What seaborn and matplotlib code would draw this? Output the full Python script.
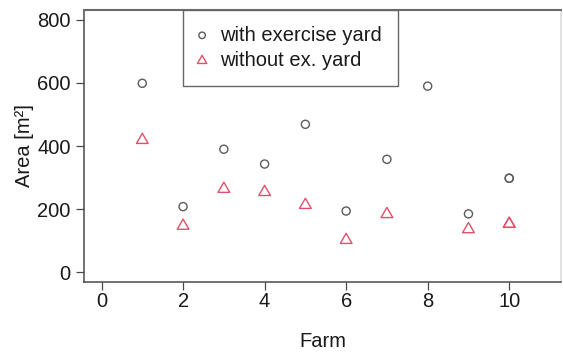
import matplotlib
matplotlib.use("Agg")
import matplotlib.pyplot as plt
import numpy as np
import pandas as pd
import seaborn as sns
from matplotlib.path import Path

# Floor area per farm, with and without an exercise yard
farms_with = [1, 2, 3, 4, 5, 6, 7, 8, 9, 10, 10]
area_with = [599, 208, 390, 343, 469, 194, 358, 590, 185, 298, 298]
farms_without = [1, 2, 3, 4, 5, 6, 7, 9, 10, 10]
area_without = [419, 147, 264, 254, 213, 102, 184, 136, 153, 153]

x_ticks = [0, 2, 4, 6, 8, 10]
y_ticks = [0, 200, 400, 600, 800]
label_with = "with exercise yard"
label_without = "without ex. yard"

sns.set_theme(style="white")
plt.rcParams["font.family"] = ["Liberation Sans", "DejaVu Sans"]

df_with = pd.DataFrame({"Farm": farms_with, "Area": area_with})
df_without = pd.DataFrame({"Farm": farms_without, "Area": area_without})

circle_col = "#5c5c5c"
tri_col = "#E0506A"
axis_col = "#4a4a4a"

# equilateral open triangle, like R's pch = 2
tri = Path([(0, 1.0), (-0.866, -0.5), (0.866, -0.5), (0, 1.0)],
           [Path.MOVETO, Path.LINETO, Path.LINETO, Path.CLOSEPOLY])

fig = plt.figure(figsize=(5.63, 3.58), dpi=100)
ax = fig.add_axes([84 / 563, 76 / 358, 477 / 563, 272.5 / 358])

sns.scatterplot(data=df_with, x="Farm", y="Area", ax=ax, marker="o", s=34,
                facecolor="none", edgecolor=circle_col, linewidth=1.0,
                label=label_with, zorder=3)
sns.scatterplot(data=df_without, x="Farm", y="Area", ax=ax, marker=tri, s=95,
                facecolor="none", edgecolor=tri_col, linewidth=1.0,
                label=label_without, zorder=3)

ax.set_xlim(-0.43, 11.27)
ax.set_ylim(-31, 833)
ax.set_xticks(x_ticks)
ax.set_yticks(y_ticks)

for side in ["left", "bottom", "top", "right"]:
    ax.spines[side].set_visible(True)
    ax.spines[side].set_color(axis_col)
    ax.spines[side].set_linewidth(1.1)
ax.spines["top"].set_linewidth(1.5)
ax.spines["top"].set_color("#6a6a6a")
ax.spines["right"].set_color("#d8d8d8")

ax.tick_params(axis="both", which="major", direction="out", length=5.5,
               width=0.9, color=axis_col, labelsize=14.5, labelcolor="#1a1a1a",
               left=True, bottom=True)
ax.tick_params(axis="x", pad=1.5)
ax.tick_params(axis="y", pad=4)

ax.set_xlabel("Farm", fontsize=14.5, color="#1a1a1a")
ax.set_ylabel("Area [m²]", fontsize=14.5, color="#1a1a1a")
ax.xaxis.set_label_coords(0.5, -0.185)
ax.yaxis.set_label_coords(-0.105, 0.5)

leg = ax.legend(loc="upper left", bbox_to_anchor=(0.2075, 1.0),
                borderaxespad=0, frameon=True, fancybox=False, framealpha=1,
                edgecolor="#666666", fontsize=14.5, borderpad=0.8,
                labelspacing=0.32, handlelength=0.3, handletextpad=0.74,
                markerscale=0.8)
leg.get_frame().set_linewidth(1.0)
for t in leg.get_texts():
    t.set_color("#1a1a1a")

fig.savefig("out.png", dpi=100)
